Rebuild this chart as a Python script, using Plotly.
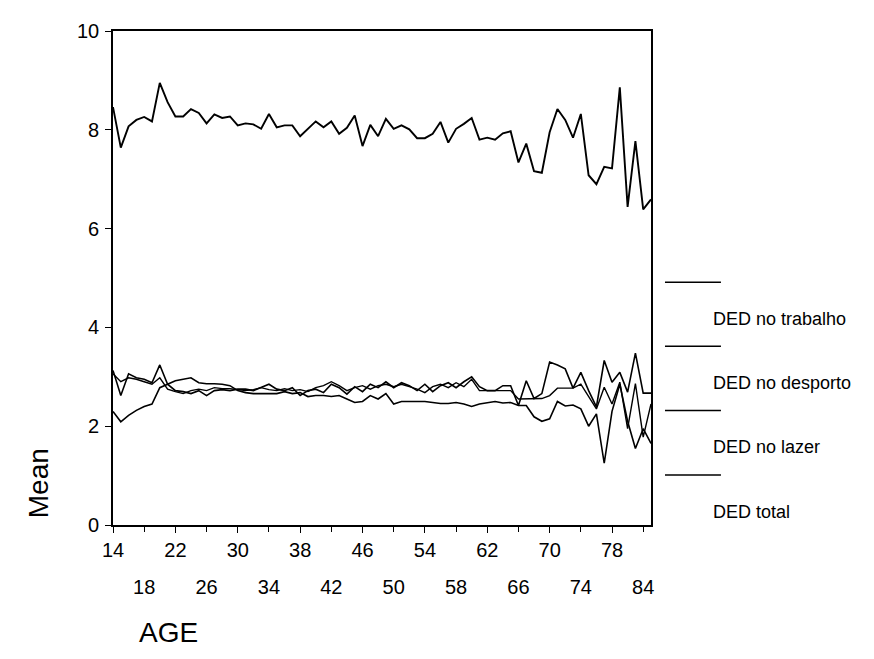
import plotly.graph_objects as go

ages = list(range(14, 79)) + [79, 80, 82, 84, 85]

ded_total = [8.46, 7.64, 8.07, 8.20, 8.26, 8.17, 8.95, 8.56, 8.27, 8.27,
             8.42, 8.34, 8.13, 8.31, 8.24, 8.27, 8.09, 8.13, 8.11, 8.02,
             8.32, 8.05, 8.09, 8.09, 7.87, 8.02, 8.17, 8.05, 8.17, 7.92,
             8.04, 8.29, 7.67, 8.10, 7.87, 8.22, 8.02, 8.09, 8.01, 7.83,
             7.83, 7.92, 8.16, 7.74, 8.02, 8.12, 8.24, 7.80, 7.84, 7.80,
             7.93, 7.97, 7.34, 7.72, 7.16, 7.13, 7.95, 8.42, 8.20, 7.84,
             8.32, 7.08, 6.90, 7.25, 7.22, 8.86, 6.44, 7.77, 6.39, 6.59]

ded_trabalho = [3.13, 2.62, 3.06, 2.98, 2.95, 2.88, 3.24, 2.85, 2.72, 2.70,
                2.66, 2.72, 2.62, 2.72, 2.74, 2.72, 2.75, 2.75, 2.72, 2.78,
                2.85, 2.75, 2.72, 2.78, 2.62, 2.72, 2.75, 2.68, 2.85, 2.78,
                2.65, 2.80, 2.70, 2.85, 2.78, 2.90, 2.78, 2.88, 2.82, 2.72,
                2.85, 2.70, 2.82, 2.88, 2.78, 2.90, 3.00, 2.80, 2.72, 2.72,
                2.82, 2.82, 2.42, 2.92, 2.56, 2.66, 3.30, 3.24, 3.16, 2.77,
                3.09, 2.72, 2.39, 3.33, 2.89, 3.09, 2.69, 3.48, 2.67, 2.67]

ded_desporto = [3.06, 2.90, 2.98, 2.95, 2.90, 2.85, 2.98, 2.75, 2.70, 2.66,
                2.72, 2.75, 2.72, 2.78, 2.76, 2.76, 2.74, 2.72, 2.74, 2.78,
                2.74, 2.72, 2.76, 2.72, 2.74, 2.70, 2.78, 2.82, 2.90, 2.82,
                2.72, 2.78, 2.82, 2.75, 2.82, 2.85, 2.80, 2.85, 2.80, 2.75,
                2.68, 2.80, 2.85, 2.78, 2.88, 2.80, 2.95, 2.72, 2.72, 2.72,
                2.72, 2.72, 2.55, 2.55, 2.55, 2.56, 2.62, 2.77, 2.77, 2.77,
                2.85, 2.60, 2.35, 2.79, 2.45, 2.89, 1.95, 2.86, 1.78, 2.45]

ded_lazer = [2.30, 2.09, 2.22, 2.32, 2.40, 2.45, 2.78, 2.85, 2.92, 2.95,
             2.98, 2.88, 2.86, 2.86, 2.85, 2.82, 2.72, 2.68, 2.66, 2.66,
             2.66, 2.66, 2.70, 2.66, 2.68, 2.60, 2.62, 2.62, 2.60, 2.62,
             2.55, 2.48, 2.50, 2.62, 2.55, 2.66, 2.45, 2.50, 2.50, 2.50,
             2.50, 2.48, 2.46, 2.46, 2.48, 2.45, 2.40, 2.45, 2.48, 2.50,
             2.47, 2.48, 2.42, 2.42, 2.19, 2.10, 2.15, 2.50, 2.41, 2.43,
             2.35, 2.00, 2.25, 1.25, 2.30, 2.85, 2.10, 1.55, 1.95, 1.65]

legend_labels = ["DED no trabalho", "DED no desporto", "DED no lazer", "DED total"]
y_ticks = [0, 2, 4, 6, 8, 10]

cats = [str(a) for a in ages]
tick_cats = cats[0::4]
row1 = tick_cats[0::2]   # 14, 22, 30, ...
row2 = tick_cats[1::2]   # 18, 26, 34, ...

FONT = "Liberation Sans, Arial, sans-serif"
TICKF = 20

fig = go.Figure()
series = [("DED no trabalho", ded_trabalho, 1.6, "x"),
          ("DED no desporto", ded_desporto, 1.4, "x"),
          ("DED no lazer", ded_lazer, 1.6, "x2"),
          ("DED total", ded_total, 1.9, "x")]
for name, vals, w, xa in series:
    fig.add_trace(go.Scatter(x=cats, y=vals, mode="lines", name=name,
                             xaxis=xa, yaxis="y",
                             line=dict(color="black", width=w),
                             showlegend=False))

fig.update_layout(
    width=874, height=659,
    margin=dict(l=105, r=231, t=20, b=142),
    paper_bgcolor="white", plot_bgcolor="white",
    font=dict(family=FONT, size=17, color="black"),
    xaxis=dict(type="category", categoryorder="array", categoryarray=cats,
               range=[0, len(cats) - 1],
               tickmode="array", tickvals=row1, ticktext=row1,
               ticks="outside", ticklen=6, tickwidth=1.3, tickcolor="black",
               showline=True, linecolor="black", linewidth=1.6, mirror=True,
               showgrid=False, zeroline=False,
               tickfont=dict(family=FONT, size=TICKF)),
    xaxis2=dict(type="category", categoryorder="array", categoryarray=cats,
                range=[0, len(cats) - 1], overlaying="x", anchor="y", side="bottom",
                tickmode="array", tickvals=row2, ticktext=row2,
                ticks="outside", ticklen=6, tickwidth=1.3, tickcolor="black",
                ticklabelstandoff=38,
                showline=False, showgrid=False, zeroline=False,
                tickfont=dict(family=FONT, size=TICKF)),
    yaxis=dict(range=[0, 10], tickmode="array", tickvals=y_ticks,
               ticks="outside", ticklen=6, tickwidth=1.3, tickcolor="black",
               showline=True, linecolor="black", linewidth=1.6, mirror=True,
               showgrid=False, zeroline=False, ticklabelstandoff=2,
               tickfont=dict(family=FONT, size=TICKF)),
)

# legend drawn as in the original: line above each label
line_y = [0.4915, 0.3616, 0.232, 0.1012]
text_y = [0.418, 0.287, 0.157, 0.026]
for lab, ly, ty in zip(legend_labels, line_y, text_y):
    fig.add_shape(type="line", xref="paper", yref="paper",
                  x0=1.026, x1=1.130, y0=ly, y1=ly,
                  line=dict(color="black", width=1.5))
    fig.add_annotation(xref="paper", yref="paper", x=1.1115, y=ty,
                       text=lab, showarrow=False, xanchor="left", yanchor="middle",
                       font=dict(family=FONT, size=18, color="black"))

fig.add_annotation(xref="paper", yref="paper", x=-0.139, y=0.085,
                   text="Mean", textangle=-90, showarrow=False,
                   xanchor="center", yanchor="middle",
                   font=dict(family=FONT, size=28, color="black"))
fig.add_annotation(xref="paper", yref="paper", x=0.045, y=-0.218,
                   text="AGE", showarrow=False,
                   xanchor="left", yanchor="middle",
                   font=dict(family=FONT, size=28, color="black"))

fig.write_html("out.html")
